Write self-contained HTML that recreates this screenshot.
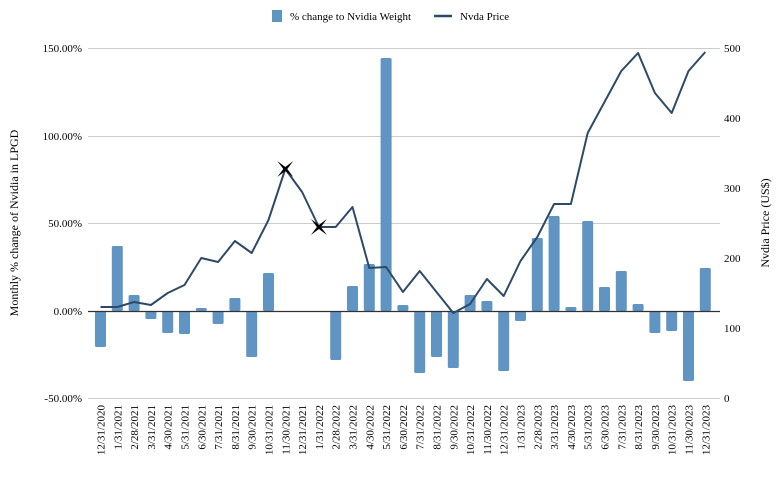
<!DOCTYPE html>
<html><head><meta charset="utf-8"><style>body{margin:0;background:#fff}svg{display:block}text{font-family:"Liberation Serif",serif;fill:#000}</style></head>
<body>
<svg width="781" height="477" viewBox="0 0 781 477" xmlns="http://www.w3.org/2000/svg">
<g stroke="#cccccc" stroke-width="1">
<line x1="88" x2="720" y1="48.5" y2="48.5"/><line x1="88" x2="720" y1="136.5" y2="136.5"/><line x1="88" x2="720" y1="223.5" y2="223.5"/><line x1="88" x2="720" y1="398.5" y2="398.5"/>
</g>
<g font-size="11" text-anchor="end">
<text x="82" y="52">150.00%</text><text x="82" y="140">100.00%</text><text x="82" y="227">50.00%</text><text x="82" y="315">0.00%</text><text x="82" y="402">-50.00%</text>
</g>
<g font-size="11">
<text x="724" y="52">500</text><text x="724" y="122">400</text><text x="724" y="192">300</text><text x="724" y="262">200</text><text x="724" y="332">100</text><text x="724" y="402">0</text>
</g>
<text font-size="12" transform="translate(18,223) rotate(-90)" text-anchor="middle">Monthly % change of Nvidia in LPGD</text>
<text font-size="12" transform="translate(769,223) rotate(-90)" text-anchor="middle">Nvdia Price (US$)</text>
<g id="bars" fill="#6094c2"></g>
<line x1="88" x2="720" y1="311.5" y2="311.5" stroke="#333" stroke-width="1.2"/>
<polyline id="ln" fill="none" stroke="#2e4a66" stroke-width="2" stroke-linejoin="round"/>
<g id="stars"></g>
<g id="xl" font-size="11"></g>
<rect x="272" y="10" width="10" height="12" fill="#6094c2"/>
<text x="290" y="20" font-size="11">% change to Nvidia Weight</text>
<line x1="434" x2="452" y1="16" y2="16" stroke="#2e4a66" stroke-width="2.5"/>
<text x="460" y="20" font-size="11">Nvda Price</text>
</svg>
<script>
var tops=[347,246,295,319,333,334,308,324,298,357,273,null,null,null,360,286,264,58,305,373,357,368,295,301,371,321,238,216,307,221,287,271,304,333,331,381,268];
var ly=[307,307,302,305,293,285,258,262,241,253,220,169,192,227,227,207,268,267,292,271,292,313,304,279,296,261,237,204,204,133,102,71,53,93,113,71,52];
var labels=[];var m=["1/31","2/28","3/31","4/30","5/31","6/30","7/31","8/31","9/30","10/31","11/30","12/31"];
labels.push("12/31/2020");for(var y=2021;y<=2023;y++)for(var i=0;i<12;i++)labels.push(m[i]+"/"+y);
var ns="http://www.w3.org/2000/svg",b=document.getElementById("bars"),xl=document.getElementById("xl"),pts=[];
for(var i=0;i<37;i++){var cx=100.5+16.8*i;
if(tops[i]!==null){var r=document.createElementNS(ns,"rect");var t=Math.min(tops[i],311),h=Math.abs(tops[i]-311);r.setAttribute("x",cx-5.5);r.setAttribute("y",t);r.setAttribute("width",11);r.setAttribute("height",h);r.setAttribute("rx",1.5);b.appendChild(r);}
pts.push(cx+","+ly[i]);
var tx=document.createElementNS(ns,"text");tx.setAttribute("transform","translate("+(cx+4)+",405) rotate(-90)");tx.setAttribute("text-anchor","end");tx.textContent=labels[i];xl.appendChild(tx);}
document.getElementById("ln").setAttribute("points",pts.join(" "));
var st=document.getElementById("stars");[11,13].forEach(function(i){var cx=100.5+16.8*i,cy=ly[i];var p=document.createElementNS(ns,"path");
p.setAttribute("d","M"+(cx-8)+","+(cy-8)+"L"+(cx)+","+(cy-2)+"L"+(cx+8)+","+(cy-8)+"L"+(cx+2)+","+cy+"L"+(cx+8)+","+(cy+8)+"L"+cx+","+(cy+2)+"L"+(cx-8)+","+(cy+8)+"L"+(cx-2)+","+cy+"Z");p.setAttribute("fill","#000");st.appendChild(p);});
</script>
</body></html>
